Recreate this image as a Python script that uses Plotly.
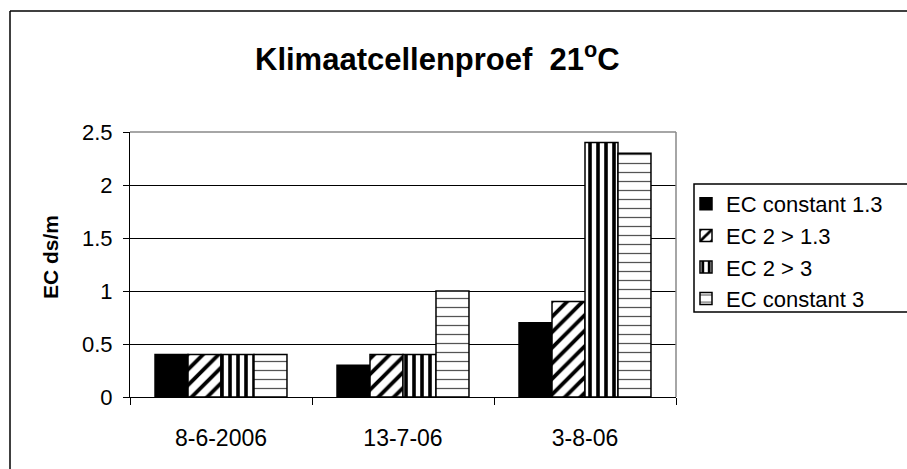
import plotly.graph_objects as go

# Measurement dates (categories) and EC values per treatment
dates = ["8-6-2006", "13-7-06", "3-8-06"]
ec_const_13 = [0.4, 0.3, 0.7]
ec_2_to_13 = [0.4, 0.4, 0.9]
ec_2_to_3 = [0.4, 0.4, 2.4]
ec_const_3 = [0.4, 1.0, 2.3]

series_names = ["EC constant 1.3", "EC 2 > 1.3", "EC 2 > 3", "EC constant 3"]
series_values = [ec_const_13, ec_2_to_13, ec_2_to_3, ec_const_3]
y_ticks = [0, 0.5, 1, 1.5, 2, 2.5]
y_tick_text = ["0", "0.5", "1", "1.5", "2", "2.5"]

# Fill style per series: solid black, diagonal hatch, vertical stripes, horizontal dashes
patterns = [
    dict(shape="", fillmode="overlay"),
    dict(shape="/", size=11, solidity=0.35, fgcolor="black", bgcolor="white", fillmode="replace"),
    dict(shape="|", size=8, solidity=0.45, fgcolor="black", bgcolor="white", fillmode="replace"),
    dict(shape="-", size=9, solidity=0.14, fgcolor="#555555", bgcolor="white", fillmode="replace"),
]
colors = ["black", "white", "white", "white"]

FONT = "Liberation Sans, Arial, sans-serif"

fig = go.Figure()
for name, vals, pat, col in zip(series_names, series_values, patterns, colors):
    fig.add_trace(go.Bar(
        x=dates, y=vals, name=name,
        marker=dict(color=col, pattern=pat, line=dict(color="black", width=1.5)),
    ))

# plot area in pixels: x 130..676, y 132..397
L, R, T, B = 130, 231, 132, 72
W, H = 907, 469
pw, ph = W - L - R, H - T - B


def px(x):
    return (x - L) / pw


def py(y):
    return (H - B - y) / ph


fig.update_layout(
    width=W, height=H,
    margin=dict(l=L, r=R, t=T, b=B, autoexpand=False),
    paper_bgcolor="white", plot_bgcolor="white",
    barmode="group", bargap=0.275, bargroupgap=0,
    font=dict(family=FONT, size=20, color="black"),
    showlegend=True,
    legend=dict(
        x=px(686), y=py(183), xanchor="left", yanchor="top",
        bgcolor="rgba(0,0,0,0)", borderwidth=0,
        font=dict(family=FONT, size=22, color="black"),
        tracegroupgap=0, itemwidth=30,
    ),
    xaxis=dict(
        type="category", showgrid=False, showline=True, linecolor="black", linewidth=1,
        ticks="outside", tickson="boundaries", ticklen=7, tickcolor="black",
        tickfont=dict(family=FONT, size=23, color="black"), ticklabelstandoff=20,
        mirror=False,
    ),
    yaxis=dict(
        range=[0, 2.5], tickvals=y_ticks, ticktext=y_tick_text,
        showgrid=True, gridcolor="black", gridwidth=1,
        showline=True, linecolor="black", linewidth=1,
        ticks="outside", ticklen=6, tickcolor="black",
        tickfont=dict(family=FONT, size=22, color="black"), ticklabelstandoff=6,
        zeroline=False,
    ),
    shapes=[
        # gray frame on top and right of the plot area
        dict(type="line", xref="paper", yref="paper", x0=0, x1=1, y0=1, y1=1,
             line=dict(color="#888888", width=1.5)),
        dict(type="line", xref="paper", yref="paper", x0=1, x1=1, y0=0, y1=1,
             line=dict(color="#888888", width=1.5)),
        # legend frame
        dict(type="rect", xref="paper", yref="paper", x0=px(694), x1=px(912), y0=py(184), y1=py(312),
             line=dict(color="black", width=1.5), layer="below"),
        # outer chart border (top and left edges)
        dict(type="line", xref="paper", yref="paper", x0=px(10), x1=px(910), y0=py(11), y1=py(11),
             line=dict(color="black", width=1.5)),
        dict(type="line", xref="paper", yref="paper", x0=px(10), x1=px(10), y0=py(11), y1=py(472),
             line=dict(color="black", width=1.5)),
    ],
    annotations=[
        dict(text="Klimaatcellenproef&nbsp;&nbsp;21<sup>o</sup>C", xref="paper", yref="paper",
             x=px(437), y=py(57), xanchor="center", yanchor="middle", showarrow=False,
             font=dict(family=FONT, size=31, color="black", weight="bold")),
        dict(text="EC ds/m", xref="paper", yref="paper", textangle=-90,
             x=px(50), y=py(257), xanchor="center", yanchor="middle", showarrow=False,
             font=dict(family=FONT, size=21, color="black", weight="bold")),
    ],
)

fig.write_html("out.html")
